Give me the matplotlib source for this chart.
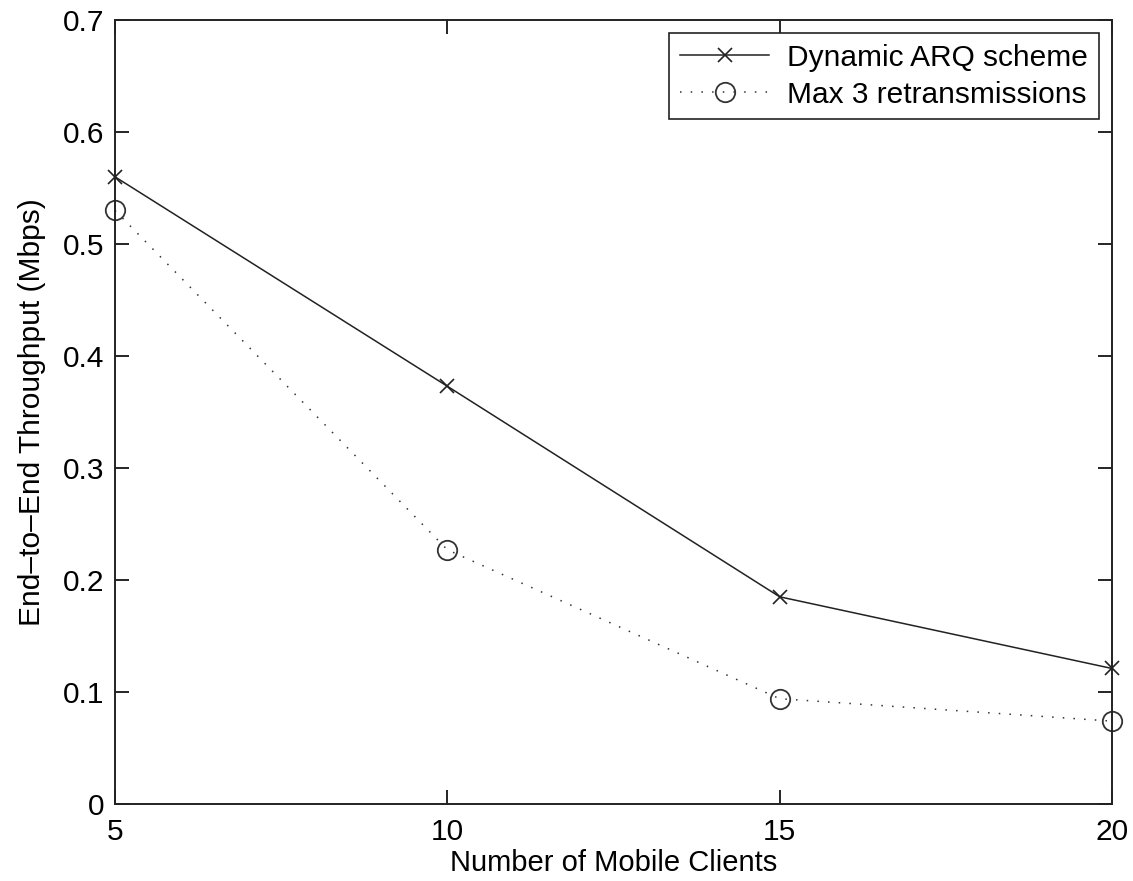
import matplotlib
matplotlib.use("Agg")
import matplotlib.pyplot as plt

plt.rcParams["font.family"] = ["Liberation Sans", "DejaVu Sans"]

# Data
clients = [5, 10, 15, 20]
dynamic_arq = [0.560, 0.373, 0.185, 0.121]
max3_retx = [0.530, 0.227, 0.094, 0.074]

fig = plt.figure(figsize=(11.33, 8.81), dpi=100)
ax = fig.add_axes([115 / 1133, 1 - 804 / 881, (1112 - 115) / 1133, (804 - 20) / 881])

ax.plot(clients, dynamic_arq, color="#222222", linestyle="-", linewidth=1.1,
        marker="x", markersize=10, markeredgewidth=1.2, clip_on=False,
        label="Dynamic ARQ scheme")
ax.plot(clients, max3_retx, color="#333333", linestyle=(0, (1, 6)), linewidth=1.1,
        marker="o", markersize=14, markerfacecolor="none", markeredgewidth=1.3,
        clip_on=False, label="Max 3 retransmissions")

ax.set_xlim(5, 20)
ax.set_ylim(0, 0.7)
ax.set_xticks([5, 10, 15, 20])
ax.set_yticks([0, 0.1, 0.2, 0.3, 0.4, 0.5, 0.6, 0.7])
ax.set_yticklabels(["0", "0.1", "0.2", "0.3", "0.4", "0.5", "0.6", "0.7"])
ax.tick_params(direction="in", length=10, width=1.2, labelsize=21.5,
               top=True, right=True)
ax.tick_params(axis="x", pad=10)
ax.tick_params(axis="y", pad=8)
for s in ax.spines.values():
    s.set_linewidth(1.4)
    s.set_color("#222222")

ax.set_xlabel("Number of Mobile Clients", fontsize=21, labelpad=2)
ax.set_ylabel("End\u2013to\u2013End Throughput (Mbps)", fontsize=21.5, labelpad=12)

leg = ax.legend(loc="upper right", fontsize=21.5, fancybox=False, framealpha=1,
                edgecolor="#222222", handlelength=3.0, borderpad=0.35,
                labelspacing=0.3, handletextpad=0.6, borderaxespad=0.45)
leg.get_frame().set_linewidth(1.2)

fig.savefig("out.png", dpi=100)
